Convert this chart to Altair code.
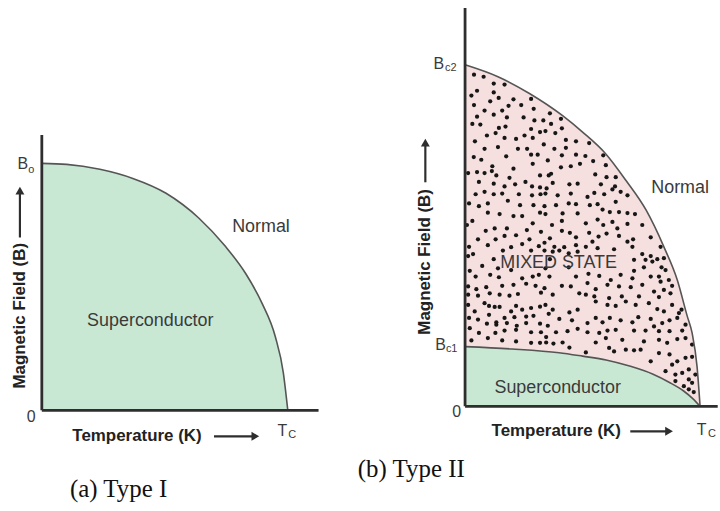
import altair as alt
import pandas as pd

# ---------------- data (normalised units: T/Tc, B/Bmax) ----------------
# Type I critical-field curve
typeI_T = [0.0, 0.101, 0.236, 0.370, 0.505, 0.639, 0.747, 0.828, 0.895, 0.949, 0.982, 1.0]
typeI_B = [1.0, 0.996, 0.976, 0.939, 0.879, 0.778, 0.663, 0.555, 0.434, 0.299, 0.151, 0.0]

# Type II upper critical field Bc2(T)
bc2_T = [0.0, 0.14, 0.274, 0.415, 0.5, 0.599, 0.684, 0.77, 0.846, 0.903, 0.945, 0.966, 0.987, 1.0]
bc2_B = [1.0, 0.965, 0.916, 0.851, 0.803, 0.739, 0.662, 0.575, 0.467, 0.37, 0.265, 0.215, 0.117, 0.0]

# Type II lower critical field Bc1(T)
bc1_T = [0.0, 0.2, 0.4, 0.5, 0.6, 0.7, 0.8, 0.87, 0.93, 0.97, 1.0]
bc1_B = [0.175, 0.168, 0.157, 0.147, 0.136, 0.118, 0.094, 0.07, 0.045, 0.022, 0.0]

# vortex dots in the mixed state (T, B)
mixed_dots = [
    (0.038,0.971),(0.079,0.965),(0.122,0.945),(0.168,0.942),(0.051,0.924),(0.122,0.919),(0.027,0.910),
    (0.143,0.903),(0.107,0.893),(0.206,0.899),(0.281,0.900),(0.038,0.882),(0.185,0.880),(0.239,0.882),
    (0.292,0.871),(0.083,0.866),(0.122,0.854),(0.158,0.866),(0.361,0.858),(0.051,0.848),(0.178,0.846),
    (0.249,0.846),(0.408,0.842),(0.031,0.827),(0.065,0.825),(0.295,0.837),(0.333,0.837),(0.144,0.815),
    (0.172,0.819),(0.281,0.812),(0.366,0.827),(0.412,0.814),(0.093,0.793),(0.130,0.800),(0.319,0.803),
    (0.342,0.806),(0.384,0.800),(0.168,0.786),(0.217,0.783),(0.253,0.793),(0.288,0.786),(0.042,0.776),
    (0.429,0.780),(0.472,0.776),(0.335,0.767),(0.140,0.759),(0.083,0.754),(0.225,0.754),(0.264,0.754),
    (0.380,0.754),(0.429,0.757),(0.309,0.737),(0.281,0.737),(0.037,0.730),(0.069,0.722),(0.175,0.732),
    (0.412,0.735),(0.352,0.720),(0.472,0.737),(0.116,0.703),(0.206,0.696),(0.408,0.700),(0.450,0.703),
    (0.288,0.710),(0.366,0.681),(0.489,0.710),(0.013,0.683),(0.051,0.686),(0.083,0.683),(0.114,0.689),
    (0.133,0.676),(0.189,0.669),(0.319,0.676),(0.356,0.676),
    (0.528,0.771),(0.512,0.733),(0.545,0.718),(0.588,0.735),(0.599,0.706),(0.554,0.679),(0.602,0.671),
    (0.641,0.671),
    (0.059,0.657),(0.122,0.652),(0.168,0.644),(0.213,0.650),(0.257,0.657),(0.285,0.644),(0.319,0.641),
    (0.347,0.638),(0.373,0.654),(0.444,0.650),(0.479,0.652),(0.045,0.621),(0.083,0.628),(0.122,0.621),
    (0.158,0.623),(0.229,0.621),(0.285,0.618),(0.321,0.621),(0.342,0.623),(0.394,0.618),(0.450,0.623),
    (0.017,0.594),(0.059,0.586),(0.097,0.594),(0.182,0.602),(0.234,0.589),(0.291,0.589),(0.338,0.586),
    (0.387,0.589),(0.441,0.594),(0.472,0.592),(0.097,0.567),(0.147,0.563),(0.206,0.557),(0.243,0.557),
    (0.319,0.567),(0.342,0.563),(0.415,0.565),(0.479,0.565),(0.031,0.543),(0.008,0.531),(0.288,0.536),
    (0.370,0.531),(0.412,0.543),(0.088,0.514),(0.126,0.521),(0.178,0.521),(0.263,0.516),(0.323,0.511),
    (0.412,0.514),(0.446,0.508),(0.055,0.489),(0.130,0.489),(0.168,0.499),(0.217,0.501),(0.274,0.489),
    (0.361,0.492),(0.472,0.495),(0.017,0.467),(0.097,0.472),(0.196,0.466),(0.243,0.475),(0.314,0.469),
    (0.338,0.479),(0.380,0.467),(0.422,0.466),(0.472,0.472),(0.034,0.446),(0.161,0.456),(0.281,0.456),
    (0.338,0.456),(0.373,0.453),(0.401,0.456),(0.441,0.448),(0.479,0.453),(0.013,0.440),(0.122,0.431),
    (0.361,0.431),(0.073,0.411),(0.020,0.397),(0.140,0.404),(0.196,0.399),(0.342,0.404),(0.441,0.407),
    (0.045,0.380),(0.107,0.385),(0.144,0.378),(0.243,0.375),(0.288,0.380),(0.314,0.385),(0.359,0.380),
    (0.472,0.380),(0.013,0.351),(0.048,0.343),(0.090,0.349),(0.158,0.353),(0.206,0.356),(0.260,0.359),
    (0.300,0.353),(0.338,0.346),(0.412,0.353),(0.450,0.351),(0.013,0.327),(0.055,0.324),(0.105,0.331),
    (0.147,0.327),(0.189,0.324),(0.225,0.329),(0.323,0.333),(0.373,0.327),(0.486,0.331),
    (0.578,0.650),(0.638,0.644),(0.550,0.625),(0.521,0.613),(0.592,0.621),(0.627,0.635),(0.662,0.628),
    (0.691,0.618),(0.531,0.589),(0.564,0.592),(0.585,0.576),(0.616,0.569),(0.655,0.569),(0.691,0.566),
    (0.723,0.563),(0.641,0.599),(0.564,0.547),(0.588,0.531),(0.627,0.540),(0.648,0.521),(0.691,0.534),
    (0.754,0.531),(0.514,0.536),(0.528,0.508),(0.568,0.497),(0.602,0.506),(0.655,0.499),(0.691,0.482),
    (0.715,0.489),(0.790,0.495),(0.542,0.482),(0.514,0.467),(0.564,0.463),(0.634,0.460),(0.712,0.467),
    (0.754,0.446),(0.790,0.440),(0.832,0.467),(0.797,0.424),(0.768,0.429),(0.818,0.431),(0.719,0.429),
    (0.761,0.407),(0.719,0.397),(0.836,0.407),(0.846,0.434),(0.853,0.399),(0.525,0.388),(0.571,0.382),
    (0.620,0.370),(0.662,0.385),(0.712,0.375),(0.790,0.380),(0.825,0.380),(0.832,0.365),(0.867,0.370),
    (0.521,0.361),(0.556,0.343),(0.606,0.356),(0.655,0.351),(0.705,0.349),(0.754,0.356),(0.804,0.336),
    (0.846,0.341),(0.881,0.353),(0.874,0.331),(0.514,0.327),(0.550,0.322),(0.613,0.317),(0.667,0.322),
    (0.740,0.322),(0.825,0.320),
    (0.013,0.297),(0.041,0.278),(0.083,0.302),(0.102,0.294),(0.126,0.291),(0.147,0.291),(0.196,0.278),
    (0.217,0.294),(0.243,0.283),(0.281,0.288),(0.319,0.292),(0.342,0.297),(0.373,0.283),(0.444,0.275),
    (0.479,0.283),(0.017,0.259),(0.055,0.254),(0.102,0.268),(0.133,0.246),(0.168,0.259),(0.210,0.261),
    (0.260,0.263),(0.291,0.265),(0.356,0.271),(0.401,0.256),(0.455,0.252),(0.020,0.229),(0.093,0.242),
    (0.133,0.239),(0.178,0.244),(0.220,0.236),(0.260,0.244),(0.319,0.242),(0.352,0.236),(0.387,0.217),
    (0.436,0.220),(0.479,0.227),(0.059,0.215),(0.129,0.215),(0.168,0.222),(0.217,0.224),(0.281,0.217),
    (0.323,0.217),(0.027,0.193),(0.097,0.200),(0.158,0.193),(0.217,0.190),(0.281,0.186),(0.319,0.186),
    (0.345,0.187),(0.376,0.184),(0.415,0.187),(0.345,0.203),(0.444,0.172),
    (0.556,0.307),(0.606,0.297),(0.641,0.294),(0.684,0.307),(0.726,0.297),(0.782,0.302),(0.818,0.285),
    (0.846,0.278),(0.881,0.297),(0.910,0.273),(0.921,0.283),(0.521,0.244),(0.556,0.259),(0.585,0.246),
    (0.616,0.259),(0.662,0.252),(0.712,0.246),(0.737,0.261),(0.790,0.256),(0.804,0.234),(0.839,0.244),
    (0.870,0.252),(0.903,0.259),(0.938,0.239),(0.521,0.217),(0.571,0.215),(0.606,0.222),(0.641,0.224),
    (0.669,0.195),(0.719,0.222),(0.768,0.222),(0.825,0.220),(0.870,0.220),(0.924,0.222),(0.514,0.158),
    (0.556,0.187),(0.599,0.200),(0.613,0.171),(0.634,0.161),(0.684,0.166),(0.719,0.164),(0.747,0.166),
    (0.761,0.190),(0.825,0.195),(0.860,0.186),(0.903,0.197),(0.938,0.200),(0.966,0.181),(0.790,0.132),
    (0.825,0.156),(0.870,0.152),(0.881,0.122),(0.903,0.132),(0.938,0.142),(0.966,0.145),(0.853,0.103),
    (0.895,0.093),(0.924,0.098),(0.952,0.108),(0.980,0.093),(0.895,0.074),(0.931,0.059),(0.952,0.079),
    (0.966,0.069),(0.952,0.050),(0.973,0.042),
]

# annotation texts
region_labels_a = ["Normal", "Superconductor"]
region_labels_b = ["Normal", "MIXED STATE", "Superconductor"]
axis_title_x = "Temperature (K)"
axis_title_y = "Magnetic Field (B)"
captions = ["(a) Type I", "(b) Type II"]

# ---------------- styling / layout ----------------
GREEN = "#c9e8d4"
PINK = "#f6dfdf"
CURVE = "#555555"
AXIS = "#2e2e2e"
TXT = "#3a3a3a"
SANS = "Liberation Sans"
SERIF = "Liberation Serif"

# panel geometry (pixels): panel width/height, origin position, pixels per unit
A = dict(w=340, h=511, x0=42, y0=411, sx=247, sy=248)
B = dict(w=380, h=511, x0=127, y0=407, sx=236, sy=343)


def enc(g):
    xs = alt.Scale(domain=[-g["x0"] / g["sx"], (g["w"] - g["x0"]) / g["sx"]], nice=False, zero=False)
    ys = alt.Scale(domain=[(g["y0"] - g["h"]) / g["sy"], g["y0"] / g["sy"]], nice=False, zero=False)
    return (alt.X("T:Q", scale=xs, axis=None), alt.Y("B:Q", scale=ys, axis=None))


def lines_df(T, Bv):
    return pd.DataFrame({"T": T, "B": Bv})


def text(df, X, Y, **kw):
    return alt.Chart(df).mark_text(**kw).encode(x=X, y=Y, text="label:N")


def rules(df, X, Y, **kw):
    return alt.Chart(df).mark_rule(**kw).encode(x=X, y=Y, x2="T2:Q", y2="B2:Q")


def arrow_heads(df, X, Y):
    return alt.Chart(df).mark_point(filled=True, color=AXIS, opacity=1, size=80).encode(
        x=X, y=Y, shape=alt.Shape("shape:N", scale=None)
    )


# ---------------- panel (a): Type I ----------------
XA, YA = enc(A)
a_fill = alt.Chart(lines_df(typeI_T, typeI_B)).mark_area(
    color=GREEN, opacity=1, interpolate="monotone").encode(x=XA, y=YA, y2=alt.datum(0))
a_curve = alt.Chart(lines_df(typeI_T, typeI_B)).mark_line(
    color=CURVE, strokeWidth=1.6, interpolate="monotone").encode(x=XA, y=YA, order="T:Q")
a_axes = rules(pd.DataFrame({"T": [0, 0], "B": [0, 0], "T2": [0, 1.125], "B2": [1.115, 0]}),
               XA, YA, color=AXIS, strokeWidth=2.8)
a_arrows = rules(pd.DataFrame({"T": [-0.089, 0.70], "B": [0.70, -0.105],
                               "T2": [-0.089, 0.86], "B2": [0.88, -0.105]}),
                 XA, YA, color=AXIS, strokeWidth=2.2)
a_heads = arrow_heads(pd.DataFrame({"T": [-0.089, 0.868], "B": [0.890, -0.105],
                                    "shape": ["triangle-up", "triangle-right"]}), XA, YA)
a_regions = text(pd.DataFrame({"T": [0.891, 0.441], "B": [0.742, 0.363], "label": region_labels_a}),
                 XA, YA, font=SANS, fontSize=18, color=TXT)
a_xtitle = text(pd.DataFrame({"T": [0.387], "B": [-0.105], "label": [axis_title_x]}),
                XA, YA, font=SANS, fontSize=17, fontWeight="bold", color="#222222")
a_ytitle = text(pd.DataFrame({"T": [-0.089], "B": [0.383], "label": [axis_title_y]}),
                XA, YA, font=SANS, fontSize=17, fontWeight="bold", color="#222222", angle=270)
a_ticks = text(pd.DataFrame({"T": [-0.043, -0.077, 0.978], "B": [-0.028, 0.996, -0.085],
                             "label": ["0", "B", "T"]}),
               XA, YA, font=SANS, fontSize=16, color=TXT)
a_subs = text(pd.DataFrame({"T": [-0.043, 1.018], "B": [0.972, -0.10], "label": ["o", "C"]}),
              XA, YA, font=SANS, fontSize=11, color=TXT)
a_caption = text(pd.DataFrame({"T": [0.312], "B": [-0.319], "label": [captions[0]]}),
                 XA, YA, font=SERIF, fontSize=25, color="#111111")

panel_a = alt.layer(a_fill, a_curve, a_axes, a_arrows, a_heads, a_regions, a_xtitle, a_ytitle,
                    a_ticks, a_subs, a_caption).properties(width=A["w"], height=A["h"])

# ---------------- panel (b): Type II ----------------
XB, YB = enc(B)
b_pink = alt.Chart(lines_df(bc2_T, bc2_B)).mark_area(
    color=PINK, opacity=1, interpolate="monotone").encode(x=XB, y=YB, y2=alt.datum(0))
b_green = alt.Chart(lines_df(bc1_T, bc1_B)).mark_area(
    color=GREEN, opacity=1, interpolate="monotone").encode(x=XB, y=YB, y2=alt.datum(0))
b_outer = alt.Chart(lines_df(bc2_T, bc2_B)).mark_line(
    color=CURVE, strokeWidth=1.6, interpolate="monotone").encode(x=XB, y=YB, order="T:Q")
b_inner = alt.Chart(lines_df(bc1_T, bc1_B)).mark_line(
    color=CURVE, strokeWidth=1.6, interpolate="monotone").encode(x=XB, y=YB, order="T:Q")
dots_df = pd.DataFrame(mixed_dots, columns=["T", "B"])
b_dots = alt.Chart(dots_df).mark_circle(color="#161616", opacity=1, size=18).encode(x=XB, y=YB)
b_axes = rules(pd.DataFrame({"T": [0, 0], "B": [0, 0], "T2": [0, 1.075], "B2": [1.166, 0]}),
               XB, YB, color=AXIS, strokeWidth=2.8)
b_arrows = rules(pd.DataFrame({"T": [-0.169, 0.703], "B": [0.656, -0.073],
                               "T2": [-0.169, 0.86], "B2": [0.765, -0.073]}),
                 XB, YB, color=AXIS, strokeWidth=2.2)
b_heads = arrow_heads(pd.DataFrame({"T": [-0.169, 0.868], "B": [0.772, -0.073],
                                    "shape": ["triangle-up", "triangle-right"]}), XB, YB)
b_regions = text(pd.DataFrame({"T": [0.915, 0.398, 0.394], "B": [0.638, 0.420, 0.055],
                               "label": region_labels_b}),
                 XB, YB, font=SANS, fontSize=18, color=TXT)
b_xtitle = text(pd.DataFrame({"T": [0.388], "B": [-0.073], "label": [axis_title_x]}),
                XB, YB, font=SANS, fontSize=17, fontWeight="bold", color="#222222")
b_ytitle = text(pd.DataFrame({"T": [-0.169], "B": [0.423], "label": [axis_title_y]}),
                XB, YB, font=SANS, fontSize=17, fontWeight="bold", color="#222222", angle=270)
b_ticks = text(pd.DataFrame({"T": [-0.036, -0.112, -0.104, 1.006], "B": [-0.017, 1.003, 0.181, -0.070],
                             "label": ["0", "B", "B", "T"]}),
               XB, YB, font=SANS, fontSize=16, color=TXT)
b_subs = text(pd.DataFrame({"T": [-0.061, -0.057, 1.050], "B": [0.990, 0.169, -0.080],
                            "label": ["c2", "c1", "C"]}),
              XB, YB, font=SANS, fontSize=11, color=TXT)
b_caption = text(pd.DataFrame({"T": [-0.229], "B": [-0.184], "label": [captions[1]]}),
                 XB, YB, font=SERIF, fontSize=25, color="#111111")

panel_b = alt.layer(b_pink, b_green, b_dots, b_outer, b_inner, b_axes, b_arrows, b_heads, b_regions,
                    b_xtitle, b_ytitle, b_ticks, b_subs, b_caption).properties(width=B["w"], height=B["h"])

chart = alt.hconcat(panel_a, panel_b, spacing=0).properties(padding=0, background="white") \
    .configure_view(stroke=None)

chart.save("out.html", embed_options={"renderer": "svg", "actions": False})
